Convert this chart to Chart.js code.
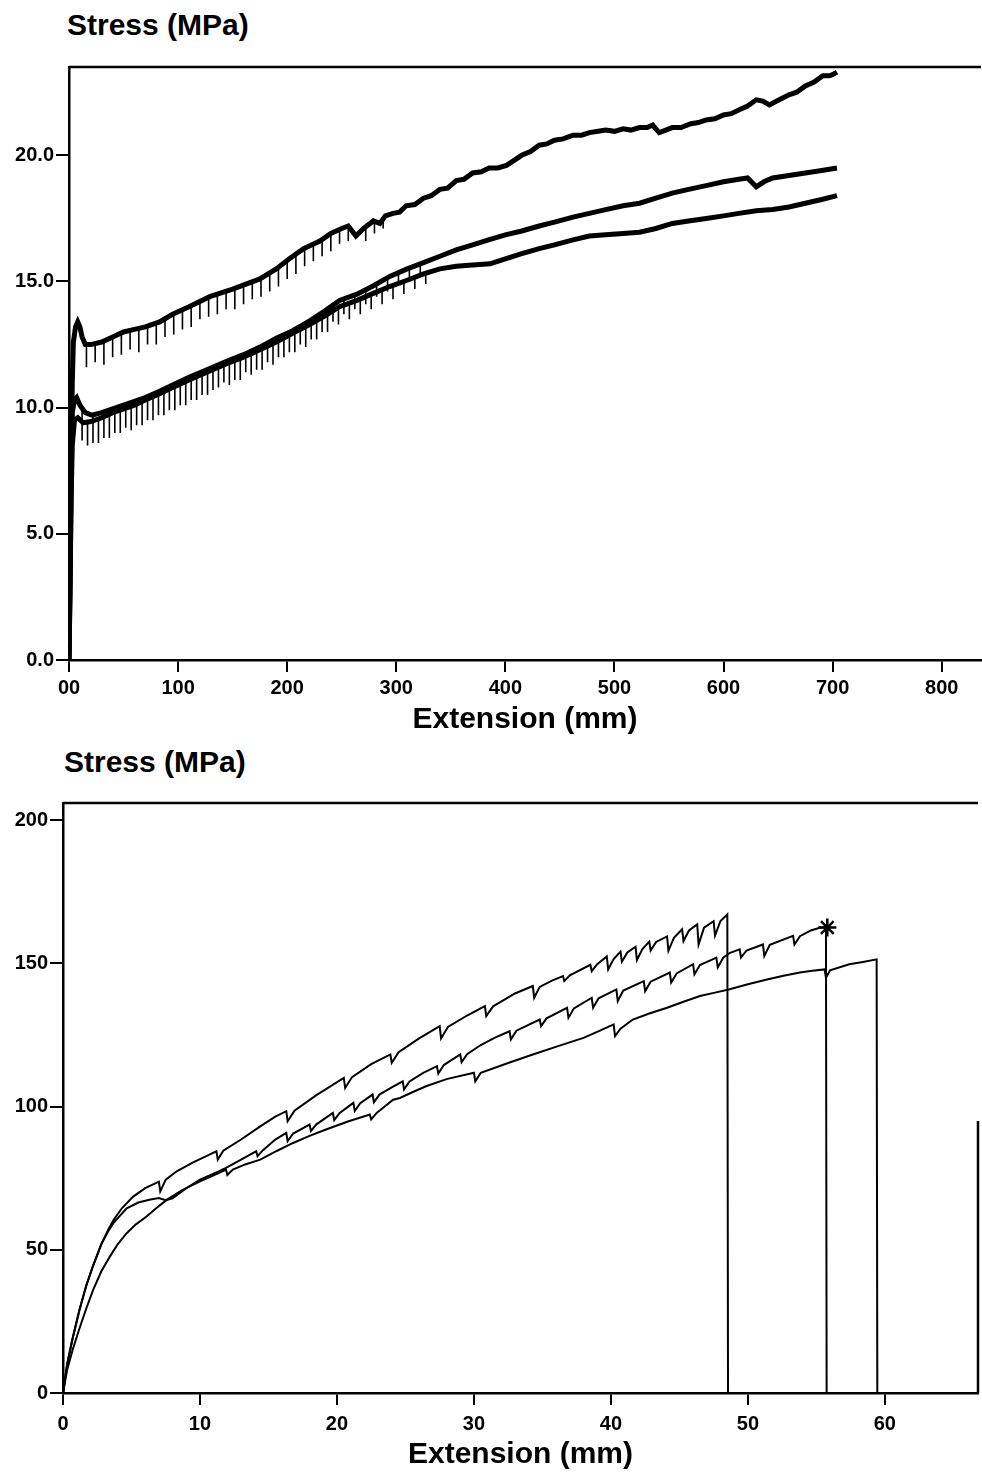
<!DOCTYPE html>
<html><head><meta charset="utf-8">
<script src="https://cdn.jsdelivr.net/npm/chart.js@4/dist/chart.umd.min.js"></script>
<style>
html,body{margin:0;padding:0;background:#fff;}
body{position:relative;width:982px;height:1475px;overflow:hidden;}
canvas{position:absolute;left:0;}
.ttl{position:absolute;font:bold 30px "Liberation Sans",Arial,sans-serif;line-height:30px;color:#000;white-space:nowrap;}
</style></head><body>
<div class="ttl" style="left:67px;top:10px">Stress (MPa)</div>
<canvas id="c1" width="982" height="745" style="top:0"></canvas>
<div class="ttl" style="left:64px;top:747px">Stress (MPa)</div>
<canvas id="c2" width="982" height="730" style="top:745px"></canvas>
<script>
// ---------- TOP CHART DATA (Extension mm, Stress MPa) ----------
const topXTickLabels = ['00','100','200','300','400','500','600','700','800'];
const topYTickLabels = ['0.0','5.0','10.0','15.0','20.0'];

const topUpper = [[0,0],[1,3],[2,7.5],[3,11],[4,12.6],[6,13.2],[8,13.4],[10,13.2],[12,12.8],[15,12.5],[20,12.5],[30,12.6],[40,12.8],[50,13.0],[60,13.1],[70,13.2],[83,13.4],[95,13.7],[110,14.0],[129,14.4],[150,14.7],[175,15.1],[190,15.5],[202,15.9],[215,16.3],[230,16.6],[240,16.9],[250,17.1],[256,17.2],[263,16.8],[270,17.1],[279,17.4],[285,17.3],[290,17.6],[297,17.7],[303,17.75],[309,18.0],[317,18.05],[325,18.3],[332,18.4],[340,18.65],[347,18.7],[355,19.0],[362,19.05],[370,19.3],[378,19.35],[385,19.5],[393,19.5],[401,19.6],[408,19.8],[415,20.0],[423,20.15],[431,20.4],[438,20.45],[445,20.6],[453,20.65],[462,20.8],[470,20.8],[477,20.9],[485,20.95],[492,21.0],[500,20.95],[508,21.05],[515,21.0],[523,21.1],[530,21.1],[535,21.2],[541,20.9],[547,21.0],[553,21.1],[561,21.1],[570,21.25],[577,21.3],[584,21.4],[592,21.45],[600,21.6],[607,21.65],[614,21.8],[622,21.95],[630,22.2],[636,22.15],[642,22.0],[651,22.2],[660,22.4],[667,22.5],[675,22.75],[683,22.9],[691,23.15],[697,23.15],[700,23.2],[704,23.3]];
const topUpperSpikes = [[16,12.5,11.6],[24,12.5,11.8],[32,12.6,11.7],[40,12.8,12.0],[48,12.95,12.1],[56,13.05,12.3],[64,13.1,12.2],[72,13.2,12.5],[80,13.35,12.5],[88,13.55,12.8],[96,13.7,12.9],[104,13.9,13.1],[112,14.05,13.2],[120,14.2,13.5],[128,14.4,13.6],[136,14.5,13.7],[144,14.6,13.9],[152,14.7,13.9],[160,14.85,14.1],[168,15.0,14.3],[176,15.1,14.4],[184,15.35,14.6],[192,15.6,14.8],[200,15.85,15.1],[208,16.1,15.3],[216,16.3,15.6],[224,16.5,15.8],[232,16.65,16.0],[240,16.9,16.2],[248,17.05,16.5],[256,17.2,16.6],[272,17.15,16.6],[280,17.4,16.9],[288,17.55,17.1]];

const topMiddle = [[0,0],[1,4],[2,8],[3,9.8],[5,10.3],[7,10.4],[10,10.1],[15,9.8],[21,9.7],[30,9.8],[40,9.95],[50,10.1],[60,10.25],[70,10.4],[83,10.65],[95,10.9],[110,11.2],[129,11.55],[145,11.85],[160,12.1],[175,12.4],[190,12.75],[205,13.05],[221,13.45],[235,13.85],[248,14.25],[264,14.5],[280,14.85],[294,15.2],[310,15.5],[325,15.75],[340,16.0],[355,16.25],[370,16.45],[386,16.67],[400,16.85],[415,17.0],[431,17.2],[445,17.35],[462,17.55],[477,17.7],[492,17.85],[508,18.0],[523,18.1],[538,18.3],[553,18.5],[568,18.65],[584,18.8],[600,18.95],[614,19.05],[622,19.1],[630,18.75],[637,18.95],[645,19.1],[660,19.2],[675,19.3],[690,19.4],[704,19.5]];
const topMiddleSpikes = [[12,10.0,8.7],[22,9.7,8.6],[32,9.8,8.8],[42,9.95,9.0],[52,10.1,9.2],[62,10.3,9.3],[72,10.45,9.5],[82,10.6,9.7],[92,10.85,9.9],[102,11.05,10.1],[112,11.2,10.3],[122,11.4,10.5],[132,11.6,10.7],[142,11.8,11.0],[152,11.95,11.1],[162,12.15,11.4],[172,12.35,11.5],[182,12.55,11.8],[192,12.8,12.0],[202,13.0,12.2],[212,13.25,12.5],[222,13.45,12.7],[232,13.75,13.0],[242,14.05,13.4],[252,14.3,13.7],[262,14.45,13.9],[272,14.7,14.1],[282,14.9,14.4],[292,15.15,14.6],[302,15.35,14.9],[312,15.5,15.1],[322,15.7,15.3]];

const topLower = [[0,0],[1,3],[2,6.5],[3,8.5],[5,9.5],[8,9.6],[13,9.4],[20,9.45],[30,9.6],[40,9.8],[50,9.95],[60,10.1],[70,10.3],[83,10.55],[95,10.8],[110,11.1],[129,11.45],[145,11.75],[160,12.0],[175,12.3],[190,12.6],[205,12.95],[221,13.3],[235,13.65],[248,14.0],[264,14.25],[280,14.55],[294,14.8],[310,15.05],[325,15.3],[340,15.5],[355,15.6],[370,15.65],[386,15.7],[400,15.9],[415,16.1],[431,16.3],[445,16.45],[462,16.65],[477,16.8],[492,16.85],[508,16.9],[523,16.95],[538,17.1],[553,17.3],[568,17.4],[584,17.5],[600,17.6],[614,17.7],[630,17.8],[645,17.85],[660,17.95],[675,18.1],[690,18.25],[704,18.4]];
const topLowerSpikes = [[17,9.45,8.5],[27,9.55,8.6],[37,9.75,8.8],[47,9.9,9.0],[57,10.05,9.1],[67,10.25,9.3],[77,10.45,9.5],[87,10.65,9.7],[97,10.85,9.9],[107,11.05,10.1],[117,11.25,10.3],[127,11.4,10.5],[137,11.6,10.8],[147,11.8,10.9],[157,11.95,11.1],[167,12.15,11.3],[177,12.35,11.5],[187,12.55,11.7],[197,12.75,12.0],[207,13.0,12.2],[217,13.2,12.4],[227,13.45,12.7],[237,13.7,13.0],[247,13.95,13.3],[257,14.15,13.5],[267,14.3,13.7],[277,14.5,13.9],[287,14.7,14.1],[297,14.85,14.3],[307,15.0,14.5],[317,15.2,14.7],[327,15.35,14.9]];

// ---------- BOTTOM CHART DATA (Extension mm, Stress MPa) ----------
const botXTickLabels = ['0','10','20','30','40','50','60'];
const botYTickLabels = ['0','50','100','150','200'];

const botCurveA = [[0,0],[0.3,10],[0.7,19],[1.2,29],[1.7,37.5],[2.2,44.5],[2.8,52],[3.3,57],[3.7,60.5],[4.3,64.5],[5.1,68.5],[6.0,71.5],[7.0,73.8],[7.1,70.4],[7.5,74.5],[8.3,77.4],[9.5,80.5],[10.5,82.8],[11.2,84.4],[11.3,81.5],[11.7,84.6],[13,88.5],[14.4,93.1],[15.5,96.5],[16.3,98.4],[16.4,94.9],[16.9,98.6],[18.5,104],[20.5,110.0],[20.6,106.5],[21.1,110.3],[22.5,114.8],[23.9,118.2],[24.0,115.3],[24.5,119.0],[26,123.8],[27.5,128.1],[27.6,123.8],[28.1,127.8],[29.5,131.8],[30.8,135.1],[30.9,131.6],[31.4,135.0],[33,139.5],[34.3,142.1],[34.4,138.0],[34.8,141.8],[35.7,144.0],[36.5,145.6],[36.6,143.8],[37,145.8],[38.5,149.5],[38.6,147.3],[39,149.7],[39.7,152.4],[39.8,147.9],[40.2,151.5],[40.7,154.1],[40.8,150.6],[41.2,153.8],[41.8,155.8],[41.9,151.2],[42.3,155.0],[42.8,157.6],[42.9,154.5],[43.3,157.5],[44.1,159.4],[44.2,154.4],[44.6,158.9],[45.2,161.9],[45.3,157.8],[45.7,161.5],[46.3,163.6],[46.4,156.6],[46.8,162.5],[47.5,164.7],[47.6,159.7],[48.0,164.8],[48.5,167.1],[48.55,0]];

const botCurveB = [[0,0],[0.3,10],[0.7,19],[1.2,29],[1.7,37.5],[2.2,44.5],[2.8,52],[3.3,56.5],[3.7,59.5],[4.65,64.5],[5.5,66.5],[6.3,67.5],[7.0,68.1],[7.5,67.3],[8,68],[9,71.5],[10.0,74.5],[11.0,76.6],[11.9,78.6],[13,81.5],[14.1,84.4],[14.2,82.7],[14.6,84.8],[15.5,88.5],[16.3,90.8],[16.4,87.9],[16.8,90.6],[18.0,93.7],[18.1,91.5],[18.5,93.8],[19.7,97.8],[19.8,95.3],[20.2,97.8],[21.2,101.3],[21.3,98.5],[21.7,101.2],[22.6,104.2],[22.7,101.5],[23.1,104.2],[24.0,106.7],[24.8,108.8],[24.9,106.0],[25.3,108.8],[26.3,111.8],[27.3,114.1],[27.4,111.5],[27.8,114.5],[29.0,118.2],[29.1,115.5],[29.5,118.3],[30.5,121.5],[31.5,124.0],[32.6,126.3],[32.7,123.4],[33.1,126.5],[34.8,130.4],[34.9,128.1],[35.3,130.8],[36.8,134.5],[36.9,131.0],[37.3,134.3],[38.6,138.0],[38.7,134.5],[39.1,137.8],[40.4,140.9],[40.5,136.8],[40.9,140.5],[42.4,143.8],[42.5,140.3],[42.9,143.6],[44.3,146.8],[44.4,143.3],[44.8,146.5],[46.0,149.7],[46.1,146.2],[46.5,149.4],[47.7,152.0],[47.8,148.6],[48.2,152.0],[48.7,153.7],[49.4,154.9],[49.5,152.0],[49.9,154.5],[51.1,156.6],[51.2,152.6],[51.6,156.5],[53.3,159.6],[53.4,156.6],[53.8,159.5],[54.6,161.5],[55.3,162.5],[55.7,162.5],[55.75,0]];
const botBreakMarker = [[55.8,162.5]];

const botCurveC = [[0,0],[0.3,8],[0.7,15],[1.2,22.5],[1.7,29.5],[2.2,36.0],[2.8,42.5],[3.43,47.7],[4.0,52],[4.65,55.8],[5.3,58.8],[6.1,61.6],[6.8,64.5],[7.6,67.5],[8.7,70.8],[10.0,73.9],[11.0,76.0],[11.9,78.0],[12.0,76.1],[12.4,78.0],[13.3,79.8],[14.4,81.5],[15.6,84.5],[16.8,87.3],[18,89.8],[19.2,92.0],[20.8,94.8],[22.4,97.2],[22.5,95.5],[22.9,97.8],[24.1,102.4],[24.6,103.0],[25.5,105.0],[26.5,107.1],[28,109.6],[30.0,111.8],[30.1,108.8],[30.5,111.8],[32.5,115.2],[34.3,118.2],[36.2,121.2],[38.0,124.0],[39.2,126.5],[40.2,128.7],[40.3,124.6],[40.7,127.2],[41.6,130.4],[42.8,132.5],[44.1,134.5],[45.3,136.6],[46.5,138.6],[47.6,139.8],[48.6,140.9],[50,142.7],[51.4,144.4],[52.6,145.7],[53.8,146.8],[54.7,147.4],[55.6,147.9],[55.7,145.0],[56.0,147.6],[57.4,149.7],[58.4,150.5],[59.4,151.4],[59.45,0]];

// ---------- helpers ----------
const toXY = pairs => pairs.map(p => ({x: p[0], y: p[1]}));
const spikesToXY = tr => tr.flatMap(t => [{x: t[0], y: t[1]}, {x: t[0], y: t[2]}, {x: t[0], y: null}]);
const FONT = '"Liberation Sans", Arial, sans-serif';

const frame = {
  id: 'frame',
  afterDraw(chart, args, opts) {
    const {ctx, chartArea: a, scales} = chart;
    ctx.save();
    ctx.strokeStyle = '#000';
    ctx.lineWidth = opts.w;
    ctx.beginPath();
    ctx.moveTo(a.left, a.top);
    ctx.lineTo(a.right, a.top);
    if (opts.rightTo != null) {
      ctx.moveTo(a.right, a.bottom);
      ctx.lineTo(a.right, scales.y.getPixelForValue(opts.rightTo));
    }
    ctx.stroke();
    ctx.restore();
  }
};

function lineDs(data, w) {
  return {data, borderColor: '#000', borderWidth: w, pointRadius: 0, tension: 0, spanGaps: false, fill: false};
}

function scales(o) {
  return {
    x: {
      type: 'linear', min: 0, max: o.xMax,
      afterFit: s => { s.height = o.xH; },
      border: {display: true, color: '#000', width: o.bw},
      grid: {drawOnChartArea: false, drawTicks: true, tickLength: 12, color: '#000', lineWidth: 2},
      ticks: {stepSize: o.xStep, includeBounds: false, autoSkip: false, maxRotation: 0, padding: o.xPad, color: '#000',
              font: {family: FONT, size: 20, weight: 'bold'},
              callback: v => o.xLabels[Math.round(v / o.xStep)]},
      title: {display: true, text: 'Extension (mm)', color: '#000', font: {family: FONT, size: 30, weight: 'bold'},
              padding: {top: 0, bottom: o.tPad}}
    },
    y: {
      type: 'linear', min: 0, max: o.yMax,
      afterFit: s => { s.width = o.yW; },
      border: {display: true, color: '#000', width: o.bw},
      grid: {drawOnChartArea: false, drawTicks: true, tickLength: 13, color: '#000', lineWidth: 2},
      ticks: {stepSize: o.yStep, includeBounds: false, padding: 2, color: '#000',
              font: {family: FONT, size: 20, weight: 'bold'},
              callback: v => o.yLabels[Math.round(v / o.yStep)]}
    }
  };
}

new Chart(document.getElementById('c1'), {
  type: 'line',
  data: {datasets: [
    lineDs(toXY(topUpper), 5),
    lineDs(spikesToXY(topUpperSpikes), 1.6),
    lineDs(toXY(topMiddle), 5),
    lineDs(spikesToXY(topMiddleSpikes), 1.6),
    lineDs(toXY(topLower), 5),
    lineDs(spikesToXY(topLowerSpikes), 1.6)
  ]},
  options: {
    responsive: false, animation: false, devicePixelRatio: 1,
    layout: {autoPadding: false, padding: {top: 67, right: 1, left: 0, bottom: 0}},
    plugins: {legend: {display: false}, tooltip: {enabled: false}, frame: {w: 2.5}},
    scales: scales({xMax: 836, xStep: 100, xLabels: topXTickLabels, xH: 85, xPad: 4, tPad: 7,
                    yMax: 23.5, yStep: 5, yLabels: topYTickLabels, yW: 69, bw: 2.5})
  },
  plugins: [frame]
});

new Chart(document.getElementById('c2'), {
  type: 'line',
  data: {datasets: [
    lineDs(toXY(botCurveA), 2),
    lineDs(toXY(botCurveB), 2),
    lineDs(toXY(botCurveC), 2),
    {data: toXY(botBreakMarker), showLine: false, pointStyle: 'star', pointRadius: 9, borderColor: '#000', borderWidth: 2.5, backgroundColor: '#000'}
  ]},
  options: {
    responsive: false, animation: false, devicePixelRatio: 1,
    layout: {autoPadding: false, padding: {top: 58, right: 4, left: 0, bottom: 0}},
    plugins: {legend: {display: false}, tooltip: {enabled: false}, frame: {w: 2.5, rightTo: 95}},
    scales: scales({xMax: 66.8, xStep: 10, xLabels: botXTickLabels, xH: 82, xPad: 7, tPad: 2,
                    yMax: 206, yStep: 50, yLabels: botYTickLabels, yW: 63, bw: 2.5})
  },
  plugins: [frame]
});
</script>
</body></html>
